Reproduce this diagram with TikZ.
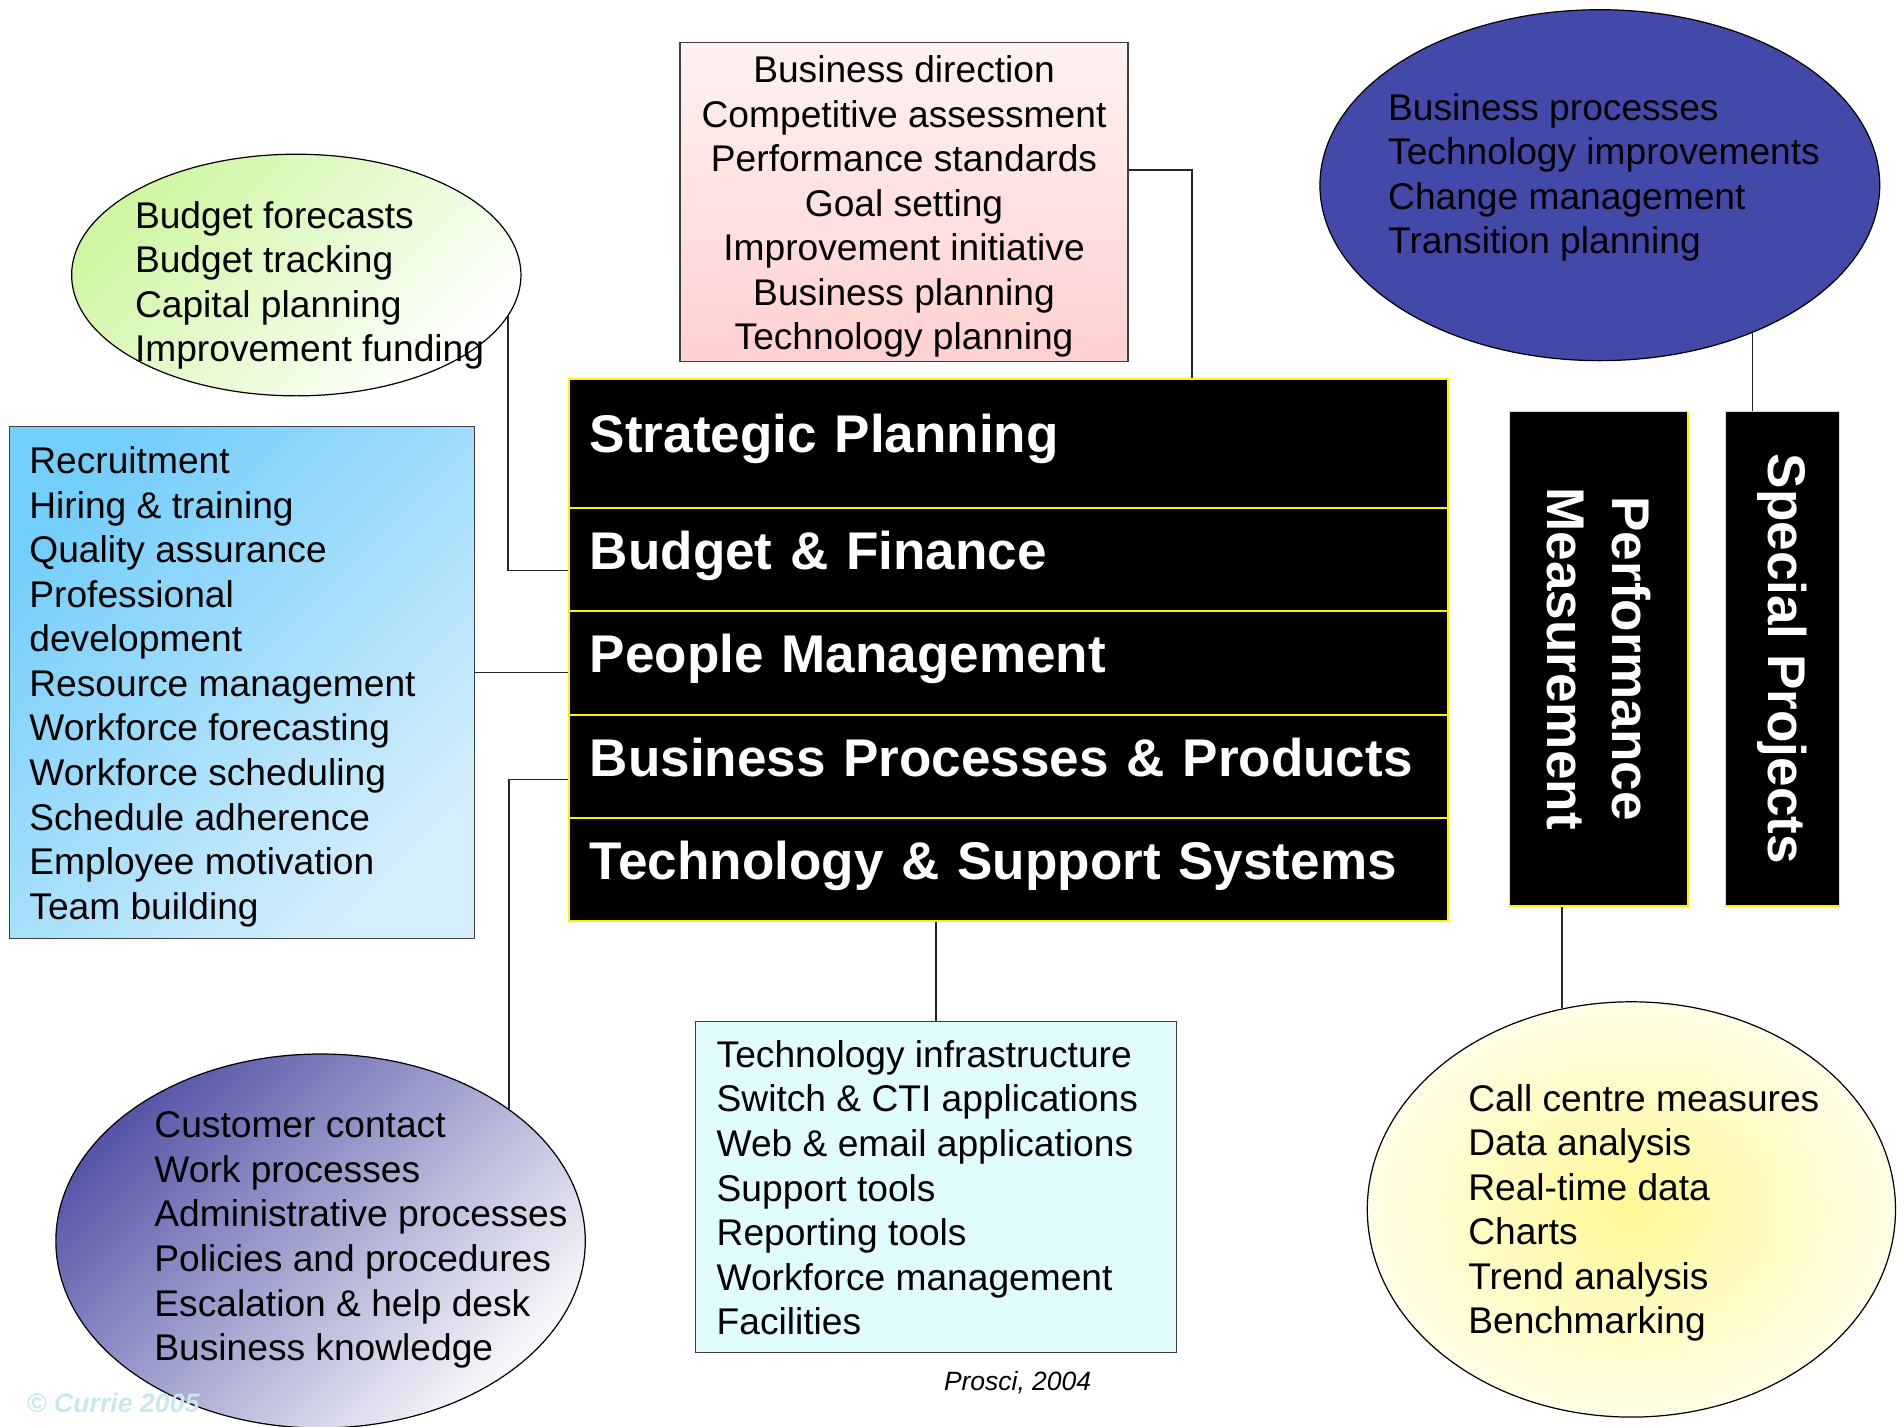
\documentclass[tikz,border=0pt]{standalone}
\usepackage{fontspec}
\setmainfont{Liberation Sans}
\usepackage{tikz}
\usetikzlibrary{shapes.geometric}

\definecolor{pinktop}{RGB}{255,242,242}
\definecolor{pinkbot}{RGB}{255,208,208}
\definecolor{indigo}{RGB}{67,73,168}
\definecolor{lime}{RGB}{206,246,160}
\definecolor{sky}{RGB}{116,206,250}
\definecolor{skylt}{RGB}{212,238,252}
\definecolor{violet}{RGB}{86,86,168}
\definecolor{ice}{RGB}{224,252,254}
\definecolor{butter}{RGB}{255,248,150}
\definecolor{butterlt}{RGB}{255,253,230}
\definecolor{mark}{RGB}{200,232,236}

\tikzset{
  item/.style={anchor=base west, inner sep=0pt, font=\fontsize{30.6}{36.7}\selectfont},
  title/.style={text=white, font=\fontsize{43.7}{53.5}\selectfont\bfseries},
  row/.style={title, draw=yellow, line width=1.6pt, fill=black, anchor=north west,
    minimum width=724pt, minimum height=85.1pt, text width=690pt, inner xsep=17pt,
    align=left, text height=30pt, text depth=14pt},
  colbox/.style={draw=yellow, line width=1.3pt, fill=black, minimum height=407pt},
  panel/.style={rectangle, draw=black!75, line width=1pt},
  blob/.style={ellipse, draw=black, line width=1pt, inner sep=0pt},
  link/.style={draw=black!85, line width=1.2pt},
}

\begin{document}
\begin{tikzpicture}[x=1pt, y=-1pt]
\useasboundingbox (0,0) rectangle (1568,1175);

% strategic planning topics
\node[panel, minimum width=369pt, minimum height=263pt, top color=pinktop, bottom color=pinkbot] (sdbox) at (744.5,166.5) {};
\foreach \t [count=\i from 0] in {Business direction, Competitive assessment, Performance standards, Goal setting, Improvement initiative, Business planning, Technology planning}
  \node[item, anchor=base] (sd-\i) at (744.5,{68+36.7*\i}) {\t};

% special projects topics
\node[blob, minimum width=461pt, minimum height=289pt, fill=indigo] (projell) at (1317.5,152.5) {};
\foreach \t [count=\i from 0] in {Business processes, Technology improvements, Change management, Transition planning}
  \node[item] (sp-\i) at (1143,{99+36.7*\i}) {\t};

% budget topics
\node[blob, minimum width=370pt, minimum height=199pt, top color=lime, bottom color=white, shading angle=45] (budgetell) at (244,226.5) {};
\foreach \t [count=\i from 0] in {Budget forecasts, Budget tracking, Capital planning, Improvement funding}
  \node[item] (bf-\i) at (111,{188+36.7*\i}) {\t};

% people topics
\node[panel, minimum width=383pt, minimum height=422pt, top color=sky, bottom color=skylt, shading angle=45] (pplbox) at (199.5,562) {};
\foreach \t [count=\i from 0] in {Recruitment, Hiring \& training, Quality assurance, Professional, development, Resource management, Workforce forecasting, Workforce scheduling, Schedule adherence, Employee motivation, Team building}
  \node[item] (pp-\i) at (24,{390+36.7*\i}) {\t};

% process topics
\node[blob, minimum width=436pt, minimum height=308pt, top color=violet, bottom color=white!96!violet, shading angle=45] (procell) at (264,1022) {};
\foreach \t [count=\i from 0] in {Customer contact, Work processes, Administrative processes, Policies and procedures, Escalation \& help desk, Business knowledge}
  \node[item] (bp-\i) at (127,{937+36.7*\i}) {\t};

% technology topics
\node[panel, minimum width=396pt, minimum height=273pt, fill=ice] (techbox) at (771,977.5) {};
\foreach \t [count=\i from 0] in {Technology infrastructure, Switch \& CTI applications, Web \& email applications, Support tools, Reporting tools, Workforce management, Facilities}
  \node[item] (ts-\i) at (590,{879+36.7*\i}) {\t};

% measurement topics
\node[blob, minimum width=435pt, minimum height=342pt, inner color=butter, outer color=butterlt] (measell) at (1343.5,996) {};
\foreach \t [count=\i from 0] in {Call centre measures, Data analysis, Real-time data, Charts, Trend analysis, Benchmarking}
  \node[item] (pm-\i) at (1209,{915+36.7*\i}) {\t};

% the five core areas
\node[row, minimum height=106.5pt] (sprow) at (468,311) {Strategic Planning};
\node[row] (bfrow) at (468,417.5) {Budget \& Finance};
\node[row] (pmrow) at (468,502.6) {People Management};
\node[row] (bprow) at (468,587.7) {Business Processes \& Products};
\node[row] (tsrow) at (468,672.8) {Technology \& Support Systems};

% side columns
\node[colbox, minimum width=147pt] (pmbox) at (1316.5,542.5) {};
\node[title, rotate=-90, align=center] (pmtext) at (pmbox) {Performance\\Measurement};
\node[colbox, minimum width=94pt] (spbox) at (1468,542.5) {};
\node[title, rotate=-90] (sptext) at (spbox) {Special Projects};

% connectors
\draw[link] ([yshift=26.5pt]sdbox.east) -| ([xshift=151pt]sprow.north);
\draw[link] (projell.-44) -- (projell.-44 |- spbox.north);
\draw[link] (budgetell.-11) |- ([yshift=-9pt]bfrow.west);
\draw[link] ([yshift=-8pt]pmrow.west) -- ([yshift=-8pt]pmrow.west -| pplbox.east);
\draw[link] (procell.35.5) |- ([yshift=-11pt]bprow.west);
\draw[link] (techbox.north) -- (techbox.north |- tsrow.south);
\draw[link] (measell.109.5) -- (measell.109.5 |- pmbox.south);

% source and watermark
\node[item, anchor=base, font=\fontsize{21.8}{26}\selectfont\itshape] (src) at (838,1145) {Prosci, 2004};
\node[item, text=mark, font=\fontsize{22}{26}\selectfont\bfseries\itshape] (wm) at (22,1163) {© Currie 2005};
\end{tikzpicture}
\end{document}
